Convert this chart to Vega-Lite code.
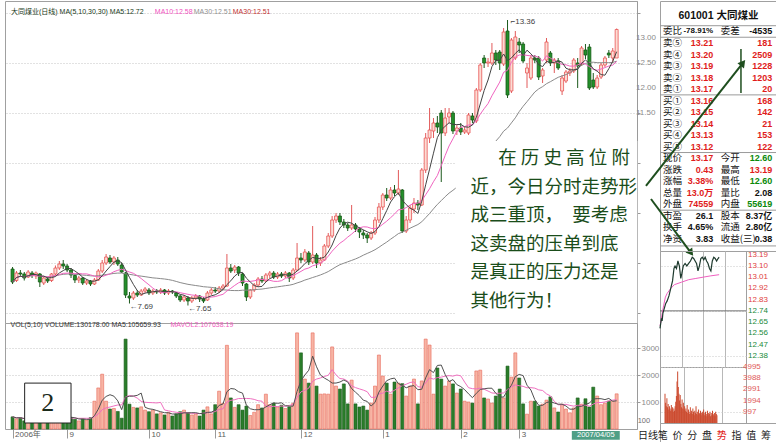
{
"$schema":"https://vega.github.io/schema/vega-lite/v6.json",
"background":"white",
"padding":{"left":4,"top":0,"right":0,"bottom":0},
"config":{"font":"Liberation Sans, Noto Sans CJK SC","view":{"stroke":"#a0a0a0"},"axis":{"labelFont":"Liberation Sans, Noto Sans CJK SC","domainColor":"#9a9a9a","tickColor":"#9a9a9a","labelOverlap":false}},
"datasets":{
"k":[
{"i":0,"o":8.38,"c":8.12,"h":8.42,"l":8.08,"v":450},{"i":1,"o":8.15,"c":8.30,"h":8.34,"l":8.12,"v":380},{"i":2,"o":8.30,"c":8.28,"h":8.36,"l":8.22,"v":420},{"i":3,"o":8.28,"c":8.20,"h":8.32,"l":8.15,"v":300},{"i":4,"o":8.22,"c":8.32,"h":8.36,"l":8.20,"v":350},{"i":5,"o":8.30,"c":8.25,"h":8.34,"l":8.20,"v":380},{"i":6,"o":8.24,"c":8.30,"h":8.33,"l":8.18,"v":320},{"i":7,"o":8.28,"c":8.12,"h":8.30,"l":8.02,"v":400},{"i":8,"o":8.10,"c":8.20,"h":8.24,"l":8.06,"v":360},{"i":9,"o":8.18,"c":8.14,"h":8.22,"l":8.10,"v":330},
{"i":10,"o":8.15,"c":8.28,"h":8.30,"l":8.12,"v":420},{"i":11,"o":8.28,"c":8.40,"h":8.45,"l":8.24,"v":460},{"i":12,"o":8.40,"c":8.48,"h":8.54,"l":8.36,"v":520},{"i":13,"o":8.48,"c":8.44,"h":8.56,"l":8.38,"v":400},{"i":14,"o":8.44,"c":8.36,"h":8.48,"l":8.32,"v":380},{"i":15,"o":8.36,"c":8.26,"h":8.40,"l":8.20,"v":420},{"i":16,"o":8.25,"c":8.16,"h":8.28,"l":8.10,"v":360},{"i":17,"o":8.16,"c":8.20,"h":8.24,"l":8.10,"v":300},{"i":18,"o":8.20,"c":8.10,"h":8.22,"l":8.06,"v":380},{"i":19,"o":8.10,"c":8.14,"h":8.18,"l":8.06,"v":330},
{"i":20,"o":8.14,"c":8.08,"h":8.16,"l":8.04,"v":420},{"i":21,"o":8.08,"c":8.16,"h":8.20,"l":8.06,"v":1030},{"i":22,"o":8.16,"c":8.34,"h":8.38,"l":8.14,"v":1520},{"i":23,"o":8.34,"c":8.50,"h":8.56,"l":8.30,"v":2030},{"i":24,"o":8.50,"c":8.62,"h":8.68,"l":8.46,"v":1030},{"i":25,"o":8.60,"c":8.52,"h":8.66,"l":8.48,"v":740},{"i":26,"o":8.52,"c":8.60,"h":8.64,"l":8.46,"v":760},{"i":27,"o":8.56,"c":8.48,"h":8.62,"l":8.44,"v":650},{"i":28,"o":8.46,"c":8.32,"h":8.50,"l":8.30,"v":400},{"i":29,"o":8.30,"c":7.86,"h":8.32,"l":7.80,"v":3330},
{"i":30,"o":7.84,"c":7.80,"h":7.92,"l":7.69,"v":920},{"i":31,"o":7.80,"c":7.90,"h":7.94,"l":7.76,"v":800},{"i":32,"o":7.90,"c":7.86,"h":7.96,"l":7.82,"v":780},{"i":33,"o":7.86,"c":7.94,"h":7.98,"l":7.84,"v":820},{"i":34,"o":7.94,"c":7.98,"h":8.02,"l":7.90,"v":700},{"i":35,"o":7.96,"c":7.90,"h":8.00,"l":7.86,"v":640},{"i":36,"o":7.90,"c":7.94,"h":7.98,"l":7.86,"v":700},{"i":37,"o":7.94,"c":7.92,"h":7.98,"l":7.88,"v":560},{"i":38,"o":7.92,"c":7.96,"h":8.00,"l":7.88,"v":600},{"i":39,"o":7.96,"c":7.90,"h":7.98,"l":7.86,"v":520},
{"i":40,"o":7.90,"c":7.94,"h":7.98,"l":7.86,"v":620},{"i":41,"o":7.94,"c":7.92,"h":7.96,"l":7.88,"v":480},{"i":42,"o":7.90,"c":7.84,"h":7.92,"l":7.80,"v":560},{"i":43,"o":7.84,"c":7.76,"h":7.86,"l":7.72,"v":640},{"i":44,"o":7.76,"c":7.82,"h":7.86,"l":7.72,"v":700},{"i":45,"o":7.80,"c":7.74,"h":7.84,"l":7.65,"v":600},{"i":46,"o":7.74,"c":7.80,"h":7.84,"l":7.70,"v":520},{"i":47,"o":7.80,"c":7.84,"h":7.88,"l":7.76,"v":560},{"i":48,"o":7.84,"c":7.78,"h":7.86,"l":7.72,"v":480},{"i":49,"o":7.78,"c":7.74,"h":7.82,"l":7.70,"v":700},
{"i":50,"o":7.76,"c":7.90,"h":7.94,"l":7.74,"v":820},{"i":51,"o":7.90,"c":7.96,"h":8.00,"l":7.86,"v":560},{"i":52,"o":7.96,"c":7.94,"h":8.02,"l":7.90,"v":900},{"i":53,"o":7.94,"c":8.00,"h":8.04,"l":7.90,"v":1400},{"i":54,"o":8.00,"c":8.04,"h":8.08,"l":7.96,"v":950},{"i":55,"o":8.04,"c":8.40,"h":8.68,"l":8.02,"v":3100},{"i":56,"o":8.40,"c":8.34,"h":8.48,"l":8.30,"v":1150},{"i":57,"o":8.36,"c":8.42,"h":8.46,"l":8.30,"v":800},{"i":58,"o":8.42,"c":8.30,"h":8.44,"l":8.24,"v":900},{"i":59,"o":8.28,"c":8.10,"h":8.30,"l":8.04,"v":700},
{"i":60,"o":8.08,"c":7.82,"h":8.10,"l":7.74,"v":850},{"i":61,"o":7.82,"c":7.96,"h":7.98,"l":7.78,"v":500},{"i":62,"o":7.96,"c":8.06,"h":8.10,"l":7.92,"v":620},{"i":63,"o":8.06,"c":8.18,"h":8.22,"l":8.02,"v":900},{"i":64,"o":8.18,"c":8.14,"h":8.24,"l":8.10,"v":780},{"i":65,"o":8.14,"c":8.26,"h":8.30,"l":8.12,"v":1290},{"i":66,"o":8.26,"c":8.30,"h":8.34,"l":8.20,"v":900},{"i":67,"o":8.30,"c":8.22,"h":8.34,"l":8.18,"v":960},{"i":68,"o":8.22,"c":8.28,"h":8.32,"l":8.18,"v":820},{"i":69,"o":8.28,"c":8.24,"h":8.32,"l":8.20,"v":880},
{"i":70,"o":8.24,"c":8.30,"h":8.34,"l":8.20,"v":760},{"i":71,"o":8.30,"c":8.20,"h":8.32,"l":8.12,"v":820},{"i":72,"o":8.20,"c":8.36,"h":8.40,"l":8.16,"v":950},{"i":73,"o":8.36,"c":8.60,"h":8.90,"l":8.34,"v":3560},{"i":74,"o":8.60,"c":8.56,"h":8.70,"l":8.50,"v":2820},{"i":75,"o":8.56,"c":8.72,"h":8.78,"l":8.52,"v":1850},{"i":76,"o":8.70,"c":8.52,"h":8.74,"l":8.46,"v":1700},{"i":77,"o":8.52,"c":8.66,"h":9.24,"l":8.48,"v":3560},{"i":78,"o":8.66,"c":8.50,"h":8.70,"l":8.40,"v":1590},{"i":79,"o":8.50,"c":8.56,"h":8.62,"l":8.44,"v":1290},
{"i":80,"o":8.56,"c":8.84,"h":8.88,"l":8.54,"v":1300},{"i":81,"o":8.84,"c":9.04,"h":9.10,"l":8.80,"v":1290},{"i":82,"o":9.04,"c":9.36,"h":9.44,"l":9.00,"v":3040},{"i":83,"o":9.36,"c":9.44,"h":9.50,"l":9.30,"v":1590},{"i":84,"o":9.44,"c":9.32,"h":9.50,"l":9.26,"v":1480},{"i":85,"o":9.32,"c":9.26,"h":9.38,"l":9.20,"v":1670},{"i":86,"o":9.26,"c":9.20,"h":9.30,"l":9.14,"v":930},{"i":87,"o":9.20,"c":9.26,"h":9.66,"l":9.16,"v":1810},{"i":88,"o":9.26,"c":9.18,"h":9.30,"l":9.12,"v":930},{"i":89,"o":9.18,"c":9.12,"h":9.22,"l":9.00,"v":815},
{"i":90,"o":9.10,"c":9.06,"h":9.16,"l":8.98,"v":850},{"i":91,"o":9.06,"c":9.00,"h":9.10,"l":8.90,"v":700},{"i":92,"o":9.00,"c":9.10,"h":9.14,"l":8.96,"v":960},{"i":93,"o":9.10,"c":9.36,"h":9.42,"l":9.06,"v":1590},{"i":94,"o":9.36,"c":9.62,"h":9.70,"l":9.30,"v":2740},{"i":95,"o":9.62,"c":9.86,"h":9.90,"l":9.56,"v":1960},{"i":96,"o":9.86,"c":9.80,"h":10.00,"l":9.74,"v":1700},{"i":97,"o":9.80,"c":9.96,"h":10.02,"l":9.76,"v":1290},{"i":98,"o":9.96,"c":9.90,"h":10.06,"l":9.84,"v":1740},{"i":99,"o":9.90,"c":9.98,"h":10.36,"l":9.86,"v":1700},
{"i":100,"o":9.96,"c":9.14,"h":9.98,"l":9.10,"v":1680},{"i":101,"o":9.14,"c":9.36,"h":9.44,"l":9.10,"v":1220},{"i":102,"o":9.36,"c":9.60,"h":9.66,"l":9.30,"v":1590},{"i":103,"o":9.58,"c":9.70,"h":9.80,"l":9.50,"v":1850},{"i":104,"o":9.70,"c":9.66,"h":9.76,"l":9.56,"v":930},{"i":105,"o":9.66,"c":10.36,"h":10.40,"l":9.64,"v":1780},{"i":106,"o":10.36,"c":11.00,"h":11.10,"l":10.30,"v":3330},{"i":107,"o":11.00,"c":11.16,"h":11.60,"l":10.90,"v":3110},{"i":108,"o":11.14,"c":11.30,"h":11.40,"l":11.00,"v":1290},{"i":109,"o":11.30,"c":11.22,"h":11.44,"l":11.10,"v":2260},
{"i":110,"o":11.50,"c":11.10,"h":11.56,"l":10.12,"v":1850},{"i":111,"o":11.10,"c":11.40,"h":11.60,"l":11.04,"v":1590},{"i":112,"o":11.42,"c":11.50,"h":11.60,"l":11.30,"v":1780},{"i":113,"o":11.50,"c":11.14,"h":11.54,"l":11.08,"v":1670},{"i":114,"o":11.14,"c":11.20,"h":11.26,"l":11.06,"v":1330},{"i":115,"o":11.20,"c":11.12,"h":11.30,"l":11.06,"v":1480},{"i":116,"o":11.12,"c":11.16,"h":11.22,"l":11.08,"v":1030},{"i":117,"o":11.10,"c":11.46,"h":11.50,"l":11.06,"v":1000},{"i":118,"o":11.44,"c":11.36,"h":11.50,"l":11.30,"v":960},{"i":119,"o":11.34,"c":11.96,"h":12.00,"l":11.30,"v":2150},
{"i":120,"o":11.96,"c":12.46,"h":12.50,"l":11.92,"v":2180},{"i":121,"o":12.60,"c":12.50,"h":12.66,"l":12.40,"v":1150},{"i":122,"o":12.50,"c":12.52,"h":12.60,"l":12.42,"v":1110},{"i":123,"o":12.50,"c":12.70,"h":12.90,"l":12.46,"v":960},{"i":124,"o":12.70,"c":12.56,"h":12.76,"l":12.46,"v":1220},{"i":125,"o":12.72,"c":12.50,"h":12.76,"l":12.36,"v":1480},{"i":126,"o":12.48,"c":13.12,"h":13.20,"l":12.44,"v":1150},{"i":127,"o":13.14,"c":11.86,"h":13.36,"l":11.80,"v":2330},{"i":128,"o":11.94,"c":12.96,"h":13.00,"l":11.90,"v":1920},{"i":129,"o":12.60,"c":13.02,"h":13.14,"l":12.56,"v":2820},
{"i":130,"o":12.92,"c":12.86,"h":13.00,"l":12.70,"v":1890},{"i":131,"o":12.88,"c":12.54,"h":12.92,"l":12.50,"v":930},{"i":132,"o":12.30,"c":12.40,"h":12.50,"l":12.00,"v":550},{"i":133,"o":12.20,"c":12.60,"h":12.66,"l":12.16,"v":1030},{"i":134,"o":12.60,"c":12.56,"h":12.66,"l":12.50,"v":1030},{"i":135,"o":12.60,"c":12.22,"h":12.64,"l":12.16,"v":850},{"i":136,"o":12.24,"c":12.36,"h":12.40,"l":12.10,"v":920},{"i":137,"o":12.56,"c":12.92,"h":13.00,"l":12.50,"v":1070},{"i":138,"o":12.70,"c":12.50,"h":12.74,"l":12.44,"v":1190},{"i":139,"o":12.50,"c":12.56,"h":12.60,"l":12.30,"v":780},
{"i":140,"o":12.54,"c":12.40,"h":12.60,"l":12.36,"v":630},{"i":141,"o":11.94,"c":12.20,"h":12.26,"l":11.86,"v":920},{"i":142,"o":12.14,"c":12.32,"h":12.36,"l":12.10,"v":740},{"i":143,"o":12.30,"c":12.34,"h":12.40,"l":12.24,"v":600},{"i":144,"o":12.34,"c":12.56,"h":12.60,"l":12.30,"v":780},{"i":145,"o":12.50,"c":12.44,"h":12.60,"l":12.00,"v":1150},{"i":146,"o":12.48,"c":12.80,"h":12.84,"l":12.44,"v":920},{"i":147,"o":12.76,"c":12.66,"h":12.88,"l":12.58,"v":1120},{"i":148,"o":12.82,"c":12.00,"h":12.88,"l":11.96,"v":815},{"i":149,"o":12.16,"c":12.02,"h":12.30,"l":11.98,"v":1550},
{"i":150,"o":12.02,"c":12.20,"h":12.26,"l":11.98,"v":1220},{"i":151,"o":12.22,"c":12.46,"h":12.50,"l":12.18,"v":900},{"i":152,"o":12.46,"c":12.60,"h":12.64,"l":12.42,"v":960},{"i":153,"o":12.70,"c":12.66,"h":12.76,"l":12.60,"v":1030},{"i":154,"o":12.60,"c":12.74,"h":12.80,"l":12.50,"v":1030},{"i":155,"o":12.60,"c":13.17,"h":13.19,"l":12.60,"v":1302}
],
"plabels":[{"p":11.5},{"p":12},{"p":12.5},{"p":13}],
"mlabels":[{"p":12.38},{"p":12.47},{"p":12.56},{"p":12.65},{"p":12.74},{"p":12.83},{"p":12.92},{"p":13.01},{"p":13.10},{"p":13.19}],
"vlabels":[{"v":997},{"v":1994},{"v":2991},{"v":3988},{"v":4995}],
"minp":[{"m":0,"p":12.60},{"m":2,"p":12.64},{"m":4,"p":12.68},{"m":6,"p":12.66},{"m":8,"p":12.72},{"m":12,"p":12.76},{"m":16,"p":12.80},{"m":20,"p":12.82},{"m":25,"p":12.86},{"m":30,"p":12.92},{"m":35,"p":12.98},{"m":39,"p":13.08},{"m":42,"p":13.10},{"m":46,"p":13.08},{"m":50,"p":13.14},{"m":54,"p":13.10},{"m":58,"p":13.00},{"m":61,"p":13.04},{"m":65,"p":13.10},{"m":70,"p":13.12},{"m":75,"p":13.10},{"m":80,"p":13.12},{"m":85,"p":13.14},{"m":90,"p":13.17},{"m":94,"p":13.16},{"m":98,"p":13.14},{"m":102,"p":13.12},{"m":106,"p":13.06},{"m":110,"p":13.10},{"m":114,"p":13.16},{"m":118,"p":13.17},{"m":122,"p":13.15},{"m":126,"p":13.17},{"m":130,"p":13.14},{"m":134,"p":13.12},{"m":138,"p":13.08},{"m":142,"p":13.06},{"m":146,"p":13.14},{"m":150,"p":13.17},{"m":154,"p":13.16},{"m":158,"p":13.14},{"m":162,"p":13.16},{"m":165,"p":13.17}],
"mina":[{"m":0,"p":12.62},{"m":3,"p":12.66},{"m":6,"p":12.72},{"m":10,"p":12.78},{"m":15,"p":12.85},{"m":20,"p":12.88},{"m":30,"p":12.92},{"m":40,"p":12.95},{"m":60,"p":12.97},{"m":80,"p":12.99},{"m":100,"p":13.00},{"m":120,"p":13.01},{"m":140,"p":13.02},{"m":165,"p":13.03}],
"minv":[{"m":0,"v":2600},{"m":2,"v":1800},{"m":4,"v":1500},{"m":6,"v":2200},{"m":8,"v":1400},{"m":10,"v":1700},{"m":12,"v":1200},{"m":14,"v":1500},{"m":16,"v":1300},{"m":18,"v":1100},{"m":20,"v":1600},{"m":22,"v":1200},{"m":24,"v":1400},{"m":26,"v":1000},{"m":28,"v":1300},{"m":30,"v":1100},{"m":32,"v":1500},{"m":34,"v":1900},{"m":36,"v":2400},{"m":38,"v":3700},{"m":40,"v":4600},{"m":42,"v":3200},{"m":44,"v":2600},{"m":46,"v":2000},{"m":48,"v":2500},{"m":50,"v":1700},{"m":52,"v":1400},{"m":54,"v":2100},{"m":56,"v":1300},{"m":58,"v":1800},{"m":60,"v":1200},{"m":62,"v":1500},{"m":64,"v":1100},{"m":66,"v":1300},{"m":68,"v":1000},{"m":70,"v":1600},{"m":72,"v":900},{"m":74,"v":1200},{"m":76,"v":1000},{"m":78,"v":800},{"m":80,"v":1400},{"m":82,"v":900},{"m":84,"v":1100},{"m":86,"v":800},{"m":88,"v":1300},{"m":90,"v":1000},{"m":92,"v":700},{"m":94,"v":1100},{"m":96,"v":900},{"m":98,"v":1500},{"m":100,"v":800},{"m":102,"v":1000},{"m":104,"v":700},{"m":106,"v":1200},{"m":108,"v":900},{"m":110,"v":800},{"m":112,"v":1100},{"m":114,"v":700},{"m":116,"v":900},{"m":118,"v":1000},{"m":120,"v":800},{"m":122,"v":1200},{"m":124,"v":700},{"m":126,"v":900},{"m":128,"v":1000},{"m":130,"v":600},{"m":132,"v":800},{"m":134,"v":1100},{"m":136,"v":700},{"m":138,"v":900},{"m":140,"v":800},{"m":142,"v":1000},{"m":144,"v":600},{"m":146,"v":900},{"m":148,"v":700},{"m":150,"v":1100},{"m":152,"v":800},{"m":154,"v":700},{"m":156,"v":900},{"m":158,"v":600},{"m":160,"v":1000},{"m":162,"v":800},{"m":164,"v":700}],
"book":[
{"r":1,"a":"委比","b":"-78.91%","c":"委差","d":"-4535","bk":"flat","dk":"flat"},
{"r":2,"a":"卖⑤","b":"13.21","c":"","d":"181","bk":"up","dk":"up"},
{"r":3,"a":"卖④","b":"13.20","c":"","d":"2509","bk":"up","dk":"up"},
{"r":4,"a":"卖③","b":"13.19","c":"","d":"1228","bk":"up","dk":"up"},
{"r":5,"a":"卖②","b":"13.18","c":"","d":"1203","bk":"up","dk":"up"},
{"r":6,"a":"卖①","b":"13.17","c":"","d":"20","bk":"up","dk":"up"},
{"r":7,"a":"买①","b":"13.16","c":"","d":"168","bk":"up","dk":"up"},
{"r":8,"a":"买②","b":"13.15","c":"","d":"142","bk":"up","dk":"up"},
{"r":9,"a":"买③","b":"13.14","c":"","d":"21","bk":"up","dk":"up"},
{"r":10,"a":"买④","b":"13.13","c":"","d":"153","bk":"up","dk":"up"},
{"r":11,"a":"买⑤","b":"13.12","c":"","d":"122","bk":"up","dk":"up"},
{"r":12,"a":"现价","b":"13.17","c":"今开","d":"12.60","bk":"up","dk":"down"},
{"r":13,"a":"涨跌","b":"0.43","c":"最高","d":"13.19","bk":"up","dk":"up"},
{"r":14,"a":"涨幅","b":"3.38%","c":"最低","d":"12.60","bk":"up","dk":"down"},
{"r":15,"a":"总量","b":"13.0万","c":"量比","d":"2.08","bk":"up","dk":"flat"},
{"r":16,"a":"外盘","b":"74559","c":"内盘","d":"55619","bk":"up","dk":"down"},
{"r":17,"a":"市盈","b":"26.1","c":"股本","d":"8.37亿","bk":"flat","dk":"flat"},
{"r":18,"a":"换手","b":"4.65%","c":"流通","d":"2.80亿","bk":"flat","dk":"flat"},
{"r":19,"a":"净资","b":"3.83","c":"收益(三)","d":"0.38","bk":"flat","dk":"flat"}
],
"tabs":[{"k":0,"t":"日线"},{"k":1,"t":"笔"},{"k":2,"t":"价"},{"k":3,"t":"分"},{"k":4,"t":"盘"},{"k":5,"t":"势"},{"k":6,"t":"指"},{"k":7,"t":"值"},{"k":8,"t":"筹"}]
},
"spacing":655,
"bounds":"flush",
"hconcat":[
{"spacing":0,"bounds":"flush","vconcat":[
{"width":632,"height":322,"layer":[
{"data":{"name":"k"},"mark":{"type":"rule","strokeWidth":1},"encoding":{
"x":{"field":"i","type":"quantitative","scale":{"domain":[-0.657,158.94],"nice":false,"zero":false},"axis":null},
"y":{"field":"l","type":"quantitative","scale":{"domain":[7.3,13.74],"nice":false,"zero":false},"title":null,"axis":{"orient":"right","values":[7.5,8,8.5,9,9.5,10,10.5,11,11.5,12,12.5,13,13.5],"grid":true,"gridColor":"#c4c4c4","gridDash":[1,2],"labels":false,"tickSize":3,"title":null}},
"y2":{"field":"h"},
"color":{"condition":{"test":"datum.c >= datum.o","value":"#e25a5a"},"value":"#1d5a1d"}}},
{"data":{"name":"k"},"mark":{"type":"bar","size":3,"strokeWidth":0.8},"encoding":{
"x":{"field":"i","type":"quantitative","scale":{"domain":[-0.657,158.94],"nice":false,"zero":false},"axis":null},
"y":{"field":"o","type":"quantitative","scale":{"domain":[7.3,13.74],"nice":false,"zero":false},"title":null},
"y2":{"field":"c"},
"fill":{"condition":{"test":"datum.c >= datum.o","value":"#fcdcd4"},"value":"#23902a"},
"stroke":{"condition":{"test":"datum.c >= datum.o","value":"#e85555"},"value":"#165a16"}}},
{"data":{"name":"k"},"transform":[{"window":[{"op":"mean","field":"c","as":"ma30"}],"frame":[-29,0],"sort":[{"field":"i"}]}],"mark":{"type":"line","strokeWidth":1,"color":"#8a8a8a"},"encoding":{
"x":{"field":"i","type":"quantitative","scale":{"domain":[-0.657,158.94],"nice":false,"zero":false},"axis":null},
"y":{"field":"ma30","type":"quantitative","scale":{"domain":[7.3,13.74],"nice":false,"zero":false},"title":null}}},
{"data":{"name":"k"},"transform":[{"window":[{"op":"mean","field":"c","as":"ma10"}],"frame":[-9,0],"sort":[{"field":"i"}]}],"mark":{"type":"line","strokeWidth":1,"color":"#f064c0"},"encoding":{
"x":{"field":"i","type":"quantitative","scale":{"domain":[-0.657,158.94],"nice":false,"zero":false},"axis":null},
"y":{"field":"ma10","type":"quantitative","scale":{"domain":[7.3,13.74],"nice":false,"zero":false},"title":null}}},
{"data":{"name":"k"},"transform":[{"window":[{"op":"mean","field":"c","as":"ma5"}],"frame":[-4,0],"sort":[{"field":"i"}]}],"mark":{"type":"line","strokeWidth":1,"color":"#444444"},"encoding":{
"x":{"field":"i","type":"quantitative","scale":{"domain":[-0.657,158.94],"nice":false,"zero":false},"axis":null},
"y":{"field":"ma5","type":"quantitative","scale":{"domain":[7.3,13.74],"nice":false,"zero":false},"title":null}}},
{"data":{"name":"plabels"},"mark":{"type":"text","align":"left","baseline":"middle","dx":4,"fontSize":8,"color":"#8a8a8a"},"encoding":{
"x":{"datum":158.94,"type":"quantitative","scale":{"domain":[-0.657,158.94],"nice":false,"zero":false},"axis":null},
"y":{"field":"p","type":"quantitative","scale":{"domain":[7.3,13.74],"nice":false,"zero":false},"title":null},
"text":{"field":"p","format":".2f"}}},
{"data":{"values":[{}]},"mark":{"type":"rect","fill":"white"},"encoding":{
"x":{"datum":113.7,"type":"quantitative","scale":{"domain":[-0.657,158.94],"nice":false,"zero":false},"axis":null},"x2":{"datum":160.3},
"y":{"datum":10.94,"type":"quantitative","scale":{"domain":[7.3,13.74],"nice":false,"zero":false},"title":null},"y2":{"datum":7.3}}},
{"data":{"values":[{}]},"mark":{"type":"text","align":"left","baseline":"middle","fontSize":18.5,"font":"Noto Sans CJK SC","color":"#1a4d1a","text":"在 历 史 高 位 附"},"encoding":{
"x":{"datum":124.6,"type":"quantitative","scale":{"domain":[-0.657,158.94],"nice":false,"zero":false},"axis":null},
"y":{"datum":10.6,"type":"quantitative","scale":{"domain":[7.3,13.74],"nice":false,"zero":false},"title":null}}},
{"data":{"values":[{}]},"mark":{"type":"text","align":"left","baseline":"top","fontSize":18.5,"lineHeight":28.4,"font":"Noto Sans CJK SC","color":"#1a4d1a","text":["近，今日分时走势形","成三重顶，　要考虑","这卖盘的压单到底","是真正的压力还是","其他行为！"]},"encoding":{
"x":{"datum":117.5,"type":"quantitative","scale":{"domain":[-0.657,158.94],"nice":false,"zero":false},"axis":null},
"y":{"datum":10.2,"type":"quantitative","scale":{"domain":[7.3,13.74],"nice":false,"zero":false},"title":null}}},
{"data":{"values":[{}]},"mark":{"type":"text","align":"left","baseline":"middle","fontSize":7,"color":"#203a20","text":"大同煤业(日线) MA(5,10,30,30) MA5:12.72"},"encoding":{
"x":{"datum":-0.4,"type":"quantitative","scale":{"domain":[-0.657,158.94],"nice":false,"zero":false},"axis":null},
"y":{"datum":13.52,"type":"quantitative","scale":{"domain":[7.3,13.74],"nice":false,"zero":false},"title":null}}},
{"data":{"values":[{}]},"mark":{"type":"text","align":"left","baseline":"middle","fontSize":7,"color":"#f050c0","text":"MA10:12.58"},"encoding":{
"x":{"datum":36.5,"type":"quantitative","scale":{"domain":[-0.657,158.94],"nice":false,"zero":false},"axis":null},
"y":{"datum":13.52,"type":"quantitative","scale":{"domain":[7.3,13.74],"nice":false,"zero":false},"title":null}}},
{"data":{"values":[{}]},"mark":{"type":"text","align":"left","baseline":"middle","fontSize":7,"color":"#909090","text":"MA30:12.51"},"encoding":{
"x":{"datum":46.5,"type":"quantitative","scale":{"domain":[-0.657,158.94],"nice":false,"zero":false},"axis":null},
"y":{"datum":13.52,"type":"quantitative","scale":{"domain":[7.3,13.74],"nice":false,"zero":false},"title":null}}},
{"data":{"values":[{}]},"mark":{"type":"text","align":"left","baseline":"middle","fontSize":7,"color":"#c03030","text":"MA30:12.51"},"encoding":{
"x":{"datum":56.5,"type":"quantitative","scale":{"domain":[-0.657,158.94],"nice":false,"zero":false},"axis":null},
"y":{"datum":13.52,"type":"quantitative","scale":{"domain":[7.3,13.74],"nice":false,"zero":false},"title":null}}},
{"data":{"values":[{}]},"mark":{"type":"text","align":"left","baseline":"middle","fontSize":8,"dy":3,"color":"#404040","text":"←7.69"},"encoding":{
"x":{"datum":30,"type":"quantitative","scale":{"domain":[-0.657,158.94],"nice":false,"zero":false},"axis":null},
"y":{"datum":7.69,"type":"quantitative","scale":{"domain":[7.3,13.74],"nice":false,"zero":false},"title":null}}},
{"data":{"values":[{}]},"mark":{"type":"text","align":"left","baseline":"middle","fontSize":8,"dy":3,"color":"#404040","text":"←7.65"},"encoding":{
"x":{"datum":45,"type":"quantitative","scale":{"domain":[-0.657,158.94],"nice":false,"zero":false},"axis":null},
"y":{"datum":7.65,"type":"quantitative","scale":{"domain":[7.3,13.74],"nice":false,"zero":false},"title":null}}},
{"data":{"values":[{}]},"mark":{"type":"text","align":"left","baseline":"middle","fontSize":8,"dx":3,"dy":2,"color":"#404040","text":"⌐13.36"},"encoding":{
"x":{"datum":127,"type":"quantitative","scale":{"domain":[-0.657,158.94],"nice":false,"zero":false},"axis":null},
"y":{"datum":13.36,"type":"quantitative","scale":{"domain":[7.3,13.74],"nice":false,"zero":false},"title":null}}}
]},
{"width":632,"height":106,"layer":[
{"data":{"name":"k"},"mark":{"type":"bar","size":3,"strokeWidth":0.6},"encoding":{
"x":{"field":"i","type":"quantitative","scale":{"domain":[-0.657,158.94],"nice":false,"zero":false},"title":null,"axis":{"orient":"bottom","values":[0,14,35,52,74,95,115,130],"labelExpr":"datum.value == 0 ? '2006年' : datum.value == 14 ? '9' : datum.value == 35 ? '10' : datum.value == 52 ? '11' : datum.value == 74 ? '12' : datum.value == 95 ? '1' : datum.value == 115 ? '2' : '3'","labelAlign":"left","labelBaseline":"top","labelOffset":2,"labelPadding":-8,"tickSize":9,"labelFontSize":8,"labelColor":"#5a5a5a","labelFlush":false,"labelOverlap":false,"grid":false,"domain":false,"title":null}},
"y":{"field":"v","type":"quantitative","scale":{"domain":[0,3926],"nice":false,"zero":false},"title":null,"axis":{"orient":"right","values":[1000,2000,3000],"format":"d","grid":true,"gridColor":"#c4c4c4","gridDash":[1,2],"labelColor":"#8a8a8a","labelFontSize":8,"tickSize":3,"labelPadding":1,"title":null}},
"fill":{"condition":{"test":"datum.c >= datum.o","value":"#f7b4a4"},"value":"#2a7d2a"},
"stroke":{"condition":{"test":"datum.c >= datum.o","value":"#e86a5a"},"value":"#1e5e1e"}}},
{"data":{"name":"k"},"transform":[{"window":[{"op":"mean","field":"v","as":"vm10"}],"frame":[-9,0],"sort":[{"field":"i"}]}],"mark":{"type":"line","strokeWidth":1,"color":"#f070c0"},"encoding":{
"x":{"field":"i","type":"quantitative","scale":{"domain":[-0.657,158.94],"nice":false,"zero":false},"title":null},
"y":{"field":"vm10","type":"quantitative","scale":{"domain":[0,3926],"nice":false,"zero":false},"title":null}}},
{"data":{"name":"k"},"transform":[{"window":[{"op":"mean","field":"v","as":"vm5"}],"frame":[-4,0],"sort":[{"field":"i"}]}],"mark":{"type":"line","strokeWidth":1,"color":"#505050"},"encoding":{
"x":{"field":"i","type":"quantitative","scale":{"domain":[-0.657,158.94],"nice":false,"zero":false},"title":null},
"y":{"field":"vm5","type":"quantitative","scale":{"domain":[0,3926],"nice":false,"zero":false},"title":null}}},
{"data":{"values":[{}]},"mark":{"type":"rect","fill":"white","stroke":"#222222","strokeWidth":1},"encoding":{
"x":{"datum":3.1,"type":"quantitative","scale":{"domain":[-0.657,158.94],"nice":false,"zero":false},"title":null},"x2":{"datum":15.0},
"y":{"datum":1700,"type":"quantitative","scale":{"domain":[0,3926],"nice":false,"zero":false},"title":null},"y2":{"datum":222}}},
{"data":{"values":[{}]},"mark":{"type":"text","align":"center","baseline":"middle","fontSize":26,"font":"Liberation Serif","color":"#1a2a1a","text":"2"},"encoding":{
"x":{"datum":9.05,"type":"quantitative","scale":{"domain":[-0.657,158.94],"nice":false,"zero":false},"title":null},
"y":{"datum":960,"type":"quantitative","scale":{"domain":[0,3926],"nice":false,"zero":false},"title":null}}},
{"data":{"values":[{}]},"mark":{"type":"text","align":"left","baseline":"middle","fontSize":7,"color":"#303030","text":"VOL(5,10) VOLUME:130178.00 MA5:105659.93"},"encoding":{
"x":{"datum":-0.5,"type":"quantitative","scale":{"domain":[-0.657,158.94],"nice":false,"zero":false},"title":null},
"y":{"datum":3852,"type":"quantitative","scale":{"domain":[0,3926],"nice":false,"zero":false},"title":null}}},
{"data":{"values":[{}]},"mark":{"type":"text","align":"left","baseline":"middle","fontSize":7,"color":"#f060c0","text":"MAVOL2:107638.19"},"encoding":{
"x":{"datum":40.5,"type":"quantitative","scale":{"domain":[-0.657,158.94],"nice":false,"zero":false},"title":null},
"y":{"datum":3852,"type":"quantitative","scale":{"domain":[0,3926],"nice":false,"zero":false},"title":null}}},
{"data":{"values":[{}]},"mark":{"type":"rect","fill":"#4f9f86"},"encoding":{
"x":{"datum":143.5,"type":"quantitative","scale":{"domain":[-0.657,158.94],"nice":false,"zero":false},"title":null},"x2":{"datum":155.8},
"y":{"datum":-70,"type":"quantitative","scale":{"domain":[0,3926],"nice":false,"zero":false},"title":null},"y2":{"datum":-400}}},
{"data":{"values":[{}]},"mark":{"type":"text","align":"center","baseline":"middle","fontSize":7.5,"color":"#ffffff","text":"2007/04/05"},"encoding":{
"x":{"datum":149.65,"type":"quantitative","scale":{"domain":[-0.657,158.94],"nice":false,"zero":false},"title":null},
"y":{"datum":-235,"type":"quantitative","scale":{"domain":[0,3926],"nice":false,"zero":false},"title":null}}},
{"data":{"values":[{}]},"mark":{"type":"text","align":"center","baseline":"middle","fontSize":7.5,"color":"#707070","text":"100"},"encoding":{
"x":{"datum":162,"type":"quantitative","scale":{"domain":[-0.657,158.94],"nice":false,"zero":false},"title":null},
"y":{"datum":300,"type":"quantitative","scale":{"domain":[0,3926],"nice":false,"zero":false},"title":null}}}
]}
]},
{"spacing":0,"bounds":"flush","vconcat":[
{"width":117,"height":250,"layer":[
{"data":{"values":[{"r":0.5},{"r":1.5},{"r":6.5},{"r":11.5},{"r":16.5},{"r":19.6}]},"mark":{"type":"rule","color":"#9a9a9a"},"encoding":{
"x":{"datum":0,"type":"quantitative","scale":{"domain":[0,100],"nice":false,"zero":false},"axis":null},"x2":{"datum":100},
"y":{"field":"r","type":"quantitative","scale":{"domain":[-1.643,20.04],"reverse":true,"nice":false,"zero":false},"axis":null}}},
{"data":{"name":"book"},"mark":{"type":"text","align":"left","baseline":"middle","fontSize":9.5,"font":"Noto Sans CJK SC","color":"#111111"},"encoding":{
"x":{"datum":2.6,"type":"quantitative","scale":{"domain":[0,100],"nice":false,"zero":false},"axis":null},
"y":{"field":"r","type":"quantitative","scale":{"domain":[-1.643,20.04],"reverse":true,"nice":false,"zero":false},"axis":null},
"text":{"field":"a"}}},
{"data":{"name":"book"},"mark":{"type":"text","align":"right","baseline":"middle","fontWeight":"bold","font":"Liberation Sans, Noto Sans CJK SC"},"encoding":{
"x":{"datum":45.5,"type":"quantitative","scale":{"domain":[0,100],"nice":false,"zero":false},"axis":null},
"y":{"field":"r","type":"quantitative","scale":{"domain":[-1.643,20.04],"reverse":true,"nice":false,"zero":false},"axis":null},
"text":{"field":"b"},
"size":{"condition":{"test":"datum.r == 1","value":8},"value":9},
"color":{"field":"bk","type":"nominal","scale":{"domain":["up","down","flat"],"range":["#e01c1c","#0a8a0a","#111111"]},"legend":null}}},
{"data":{"name":"book"},"mark":{"type":"text","align":"left","baseline":"middle","fontSize":9.5,"font":"Noto Sans CJK SC","color":"#111111"},"encoding":{
"x":{"datum":52,"type":"quantitative","scale":{"domain":[0,100],"nice":false,"zero":false},"axis":null},
"y":{"field":"r","type":"quantitative","scale":{"domain":[-1.643,20.04],"reverse":true,"nice":false,"zero":false},"axis":null},
"text":{"field":"c"}}},
{"data":{"name":"book"},"mark":{"type":"text","align":"right","baseline":"middle","fontSize":9,"fontWeight":"bold","font":"Liberation Sans, Noto Sans CJK SC"},"encoding":{
"x":{"datum":96,"type":"quantitative","scale":{"domain":[0,100],"nice":false,"zero":false},"axis":null},
"y":{"field":"r","type":"quantitative","scale":{"domain":[-1.643,20.04],"reverse":true,"nice":false,"zero":false},"axis":null},
"text":{"field":"d"},
"color":{"field":"dk","type":"nominal","scale":{"domain":["up","down","flat"],"range":["#e01c1c","#0a8a0a","#111111"]},"legend":null}}},
{"data":{"values":[{}]},"mark":{"type":"text","align":"center","baseline":"middle","fontSize":10.5,"fontWeight":"bold","dy":-4,"color":"#111111","text":"601001 大同煤业"},"encoding":{
"x":{"datum":50,"type":"quantitative","scale":{"domain":[0,100],"nice":false,"zero":false},"axis":null},
"y":{"datum":0,"type":"quantitative","scale":{"domain":[-1.643,20.04],"reverse":true,"nice":false,"zero":false},"axis":null}}},
{"data":{"values":[{}]},"mark":{"type":"rule","color":"#1e4e1e","strokeWidth":1.5},"encoding":{
"x":{"datum":69.2,"type":"quantitative","scale":{"domain":[0,100],"nice":false,"zero":false},"axis":null},
"y":{"datum":2.52,"type":"quantitative","scale":{"domain":[-1.643,20.04],"reverse":true,"nice":false,"zero":false},"axis":null},"y2":{"datum":6.34}}},
{"data":{"values":[{}]},"mark":{"type":"rule","color":"#1e4e1e","strokeWidth":2},"encoding":{
"x":{"datum":-12,"type":"quantitative","scale":{"domain":[0,100],"nice":false,"zero":false},"axis":null},"x2":{"datum":70.9},
"y":{"datum":14.4,"type":"quantitative","scale":{"domain":[-1.643,20.04],"reverse":true,"nice":false,"zero":false},"axis":null},"y2":{"datum":3.73}}},
{"data":{"values":[{}]},"mark":{"type":"rule","color":"#1e4e1e","strokeWidth":2},"encoding":{
"x":{"datum":-7.7,"type":"quantitative","scale":{"domain":[0,100],"nice":false,"zero":false},"axis":null},"x2":{"datum":26.5},
"y":{"datum":15.53,"type":"quantitative","scale":{"domain":[-1.643,20.04],"reverse":true,"nice":false,"zero":false},"axis":null},"y2":{"datum":20.2}}},
{"data":{"values":[{}]},"mark":{"type":"point","shape":"triangle-up","filled":true,"size":70,"angle":38,"color":"#1e4e1e","opacity":1},"encoding":{
"x":{"datum":70.9,"type":"quantitative","scale":{"domain":[0,100],"nice":false,"zero":false},"axis":null},
"y":{"datum":3.73,"type":"quantitative","scale":{"domain":[-1.643,20.04],"reverse":true,"nice":false,"zero":false},"axis":null}}},
{"data":{"values":[{}]},"mark":{"type":"point","shape":"triangle-up","filled":true,"size":70,"angle":143,"color":"#1e4e1e","opacity":1},"encoding":{
"x":{"datum":26.5,"type":"quantitative","scale":{"domain":[0,100],"nice":false,"zero":false},"axis":null},
"y":{"datum":20.2,"type":"quantitative","scale":{"domain":[-1.643,20.04],"reverse":true,"nice":false,"zero":false},"axis":null}}}
]},
{"width":86,"height":116,"layer":[
{"data":{"values":[{}]},"mark":{"type":"rule","color":"#707070","strokeWidth":1},"encoding":{
"y":{"datum":12.74,"type":"quantitative","scale":{"domain":[12.29,13.22],"nice":false,"zero":false},"title":null}}},
{"data":{"name":"mina"},"mark":{"type":"line","strokeWidth":1,"color":"#f060c0"},"encoding":{
"x":{"field":"m","type":"quantitative","scale":{"domain":[0,240],"nice":false,"zero":false},"title":null,"axis":{"values":[60,120,180],"grid":true,"gridColor":"#b8b8b8","labels":false,"ticks":false,"domain":false,"title":null}},
"y":{"field":"p","type":"quantitative","scale":{"domain":[12.29,13.22],"nice":false,"zero":false},"title":null,"axis":{"orient":"right","values":[12.38,12.47,12.56,12.65,12.74,12.83,12.92,13.01,13.1,13.19],"grid":true,"gridColor":"#c8c8c8","gridDash":[1,2],"labels":false,"ticks":false,"domain":false,"title":null}}}},
{"data":{"name":"minp"},"mark":{"type":"line","strokeWidth":1.2,"color":"#1e3a2e"},"encoding":{
"x":{"field":"m","type":"quantitative","scale":{"domain":[0,240],"nice":false,"zero":false},"title":null},
"y":{"field":"p","type":"quantitative","scale":{"domain":[12.29,13.22],"nice":false,"zero":false},"title":null}}},
{"data":{"name":"mlabels"},"mark":{"type":"text","align":"left","baseline":"middle","dx":2,"fontSize":8},"encoding":{
"x":{"datum":240,"type":"quantitative","scale":{"domain":[0,240],"nice":false,"zero":false},"title":null},
"y":{"field":"p","type":"quantitative","scale":{"domain":[12.29,13.22],"nice":false,"zero":false},"title":null},
"text":{"field":"p","format":".2f"},
"color":{"condition":{"test":"datum.p > 12.745","value":"#e04040"},"value":"#1a8a3a"}}}
]},
{"width":86,"height":56,"layer":[
{"data":{"name":"minv"},"mark":{"type":"bar","size":1,"color":"#cc4a2e"},"encoding":{
"x":{"field":"m","type":"quantitative","scale":{"domain":[0,240],"nice":false,"zero":false},"title":null,"axis":{"values":[60,120,180],"grid":true,"gridColor":"#b8b8b8","labels":false,"ticks":false,"domain":false,"title":null}},
"y":{"field":"v","type":"quantitative","scale":{"domain":[0,4995],"nice":false,"zero":false},"title":null,"axis":{"orient":"right","values":[997,1994,2991,3988,4995],"grid":true,"gridColor":"#c8c8c8","gridDash":[1,2],"labels":false,"ticks":false,"domain":false,"title":null}}}},
{"data":{"name":"vlabels"},"mark":{"type":"text","align":"left","baseline":"middle","dx":2,"fontSize":8,"color":"#e05a5a"},"encoding":{
"x":{"datum":240,"type":"quantitative","scale":{"domain":[0,240],"nice":false,"zero":false},"title":null},
"y":{"field":"v","type":"quantitative","scale":{"domain":[0,4995],"nice":false,"zero":false},"title":null},
"text":{"field":"v"}}}
]},
{"width":117,"height":20,"data":{"name":"tabs"},"mark":{"type":"text","fontSize":10,"font":"Noto Sans CJK SC","dy":3},"encoding":{
"x":{"field":"k","type":"quantitative","scale":{"domain":[0.814,8.745],"nice":false,"zero":false},"axis":null},
"text":{"field":"t"},
"color":{"condition":{"test":"datum.t == '势'","value":"#e02020"},"value":"#1a1a1a"}}}
]}
]
}
